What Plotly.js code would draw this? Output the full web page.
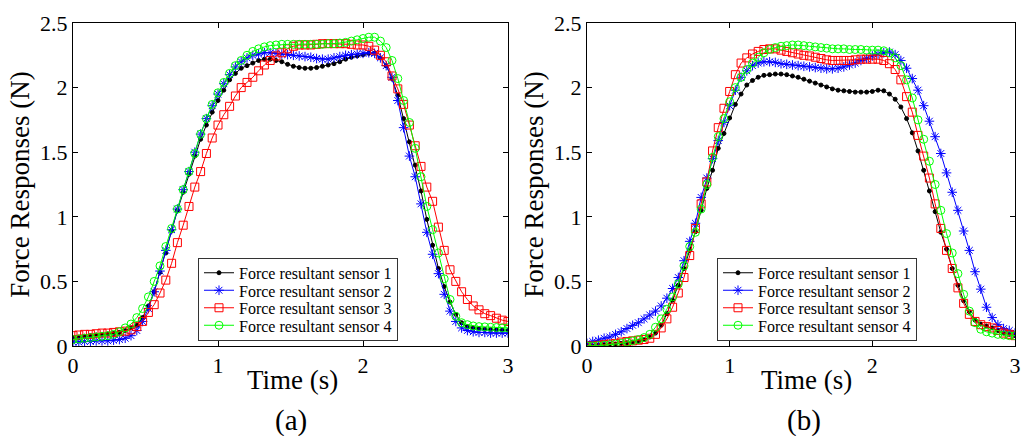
<!DOCTYPE html>
<html>
<head>
<meta charset="utf-8">
<script src="https://cdn.plot.ly/plotly-3.0.1.min.js"></script>
<style>
  html, body { margin: 0; padding: 0; background: #fff; }
  #chart { width: 1022px; height: 436px; }
</style>
</head>
<body>
<div id="chart"></div>
<script>
// Time axis (s)
const time = [0.00,0.04,0.08,0.12,0.16,0.20,0.24,0.28,0.32,0.36,
  0.40,0.44,0.48,0.52,0.56,0.60,0.64,0.68,0.72,0.76,
  0.80,0.84,0.88,0.92,0.96,1.00,1.04,1.08,1.12,1.16,
  1.20,1.24,1.28,1.32,1.36,1.40,1.44,1.48,1.52,1.56,
  1.60,1.64,1.68,1.72,1.76,1.80,1.84,1.88,1.92,1.96,
  2.00,2.04,2.08,2.12,2.16,2.20,2.24,2.28,2.32,2.36,
  2.40,2.44,2.48,2.52,2.56,2.60,2.64,2.68,2.72,2.76,
  2.80,2.84,2.88,2.92,2.96,3.00];

const seriesNames = ["Force resultant sensor 1","Force resultant sensor 2","Force resultant sensor 3","Force resultant sensor 4"];
const xTicks = [0,1,2,3];
const yTicks = [0,0.5,1,1.5,2,2.5];
const yTickText = ["0","0.5","1","1.5","2","2.5"];
const panelLabels = ["(a)","(b)"];
const xTitle = "Time (s)";
const yTitle = "Force Responses (N)";

// Panel (a)
const a_sensor1 = [0.06,0.065,0.075,0.08,0.085,0.09,0.093,0.097,0.105,0.12,
  0.14,0.16,0.22,0.31,0.42,0.57,0.72,0.89,1.05,1.19,
  1.33,1.47,1.60,1.71,1.81,1.90,1.98,2.06,2.11,2.15,
  2.17,2.19,2.21,2.22,2.22,2.21,2.20,2.18,2.165,2.155,
  2.15,2.15,2.155,2.165,2.175,2.185,2.20,2.22,2.235,2.245,
  2.255,2.265,2.265,2.23,2.17,2.07,1.94,1.76,1.58,1.40,
  1.20,0.98,0.78,0.60,0.46,0.34,0.245,0.18,0.15,0.14,
  0.135,0.13,0.128,0.125,0.123,0.12];
const a_sensor2 = [0.03,0.03,0.035,0.035,0.04,0.04,0.04,0.045,0.05,0.06,
  0.08,0.12,0.19,0.29,0.42,0.58,0.74,0.90,1.06,1.21,
  1.35,1.50,1.64,1.76,1.86,1.95,2.03,2.10,2.16,2.20,
  2.23,2.25,2.26,2.27,2.27,2.265,2.26,2.255,2.25,2.245,
  2.24,2.235,2.225,2.22,2.22,2.23,2.24,2.25,2.255,2.26,
  2.265,2.27,2.265,2.23,2.17,2.08,1.90,1.69,1.47,1.31,
  1.10,0.88,0.71,0.56,0.40,0.27,0.19,0.14,0.12,0.11,
  0.105,0.105,0.10,0.10,0.10,0.10];
const a_sensor3 = [0.08,0.085,0.09,0.09,0.095,0.10,0.10,0.105,0.11,0.115,
  0.125,0.15,0.19,0.26,0.32,0.41,0.51,0.64,0.80,0.935,
  1.08,1.23,1.35,1.49,1.61,1.71,1.79,1.855,1.935,2.00,
  2.04,2.08,2.13,2.175,2.21,2.245,2.27,2.30,2.32,2.33,
  2.33,2.33,2.335,2.34,2.34,2.34,2.34,2.34,2.335,2.33,
  2.33,2.32,2.29,2.25,2.20,2.09,1.99,1.87,1.71,1.55,
  1.39,1.23,1.12,0.92,0.74,0.59,0.50,0.42,0.36,0.31,
  0.28,0.25,0.235,0.215,0.20,0.19];
const a_sensor4 = [0.05,0.055,0.06,0.065,0.07,0.075,0.08,0.09,0.11,0.14,
  0.17,0.22,0.29,0.38,0.50,0.62,0.77,0.91,1.06,1.21,
  1.35,1.49,1.64,1.76,1.87,1.96,2.04,2.11,2.17,2.21,
  2.25,2.28,2.30,2.315,2.325,2.33,2.335,2.335,2.335,2.335,
  2.335,2.335,2.335,2.335,2.34,2.34,2.345,2.35,2.36,2.37,
  2.38,2.39,2.39,2.36,2.31,2.21,2.07,1.90,1.73,1.53,
  1.31,1.08,0.90,0.72,0.52,0.36,0.23,0.18,0.165,0.155,
  0.15,0.148,0.145,0.143,0.14,0.14];

// Panel (b)
const b_sensor1 = [0.0,0.0,0.005,0.01,0.012,0.015,0.02,0.025,0.03,0.035,
  0.05,0.07,0.10,0.16,0.25,0.355,0.47,0.60,0.74,0.885,
  1.05,1.22,1.36,1.53,1.645,1.765,1.87,1.95,2.02,2.055,
  2.08,2.095,2.10,2.105,2.105,2.10,2.09,2.08,2.065,2.05,
  2.035,2.02,2.005,1.99,1.98,1.975,1.97,1.965,1.965,1.965,
  1.97,1.98,1.975,1.95,1.91,1.85,1.76,1.65,1.51,1.36,
  1.20,1.04,0.88,0.75,0.60,0.47,0.35,0.265,0.20,0.17,
  0.155,0.14,0.12,0.10,0.09,0.08];
const b_sensor2 = [0.02,0.035,0.045,0.06,0.07,0.09,0.11,0.135,0.16,0.18,
  0.21,0.24,0.27,0.31,0.37,0.445,0.53,0.66,0.81,0.95,
  1.15,1.30,1.45,1.59,1.73,1.86,1.98,2.08,2.13,2.17,
  2.19,2.20,2.20,2.195,2.185,2.18,2.175,2.17,2.165,2.16,
  2.155,2.15,2.145,2.145,2.15,2.16,2.175,2.19,2.21,2.225,
  2.245,2.26,2.27,2.275,2.255,2.21,2.15,2.07,1.98,1.86,
  1.74,1.62,1.49,1.34,1.19,1.05,0.89,0.74,0.575,0.44,
  0.30,0.22,0.165,0.135,0.12,0.10];
const b_sensor3 = [0.0,0.0,0.005,0.01,0.015,0.02,0.03,0.035,0.04,0.045,
  0.05,0.06,0.09,0.14,0.21,0.30,0.41,0.53,0.70,0.91,
  1.10,1.27,1.51,1.69,1.84,1.97,2.10,2.19,2.23,2.26,
  2.28,2.295,2.30,2.30,2.29,2.28,2.27,2.26,2.25,2.245,
  2.235,2.225,2.215,2.21,2.21,2.21,2.21,2.215,2.22,2.22,
  2.22,2.22,2.21,2.185,2.14,2.06,1.93,1.81,1.63,1.47,
  1.30,1.10,0.91,0.74,0.60,0.45,0.33,0.245,0.19,0.165,
  0.15,0.14,0.12,0.10,0.09,0.08];
const b_sensor4 = [0.0,0.0,0.003,0.006,0.01,0.015,0.02,0.03,0.04,0.05,
  0.065,0.09,0.145,0.21,0.285,0.38,0.48,0.62,0.77,0.88,
  1.06,1.25,1.46,1.62,1.76,1.89,2.00,2.08,2.14,2.19,
  2.235,2.27,2.295,2.31,2.32,2.325,2.33,2.33,2.325,2.32,
  2.315,2.31,2.305,2.30,2.30,2.30,2.295,2.295,2.295,2.29,
  2.29,2.29,2.285,2.27,2.23,2.17,2.06,1.92,1.75,1.60,
  1.43,1.25,1.05,0.87,0.72,0.56,0.40,0.27,0.18,0.13,
  0.11,0.10,0.09,0.085,0.08,0.08];

const styles = [
  {color: "#000000", symbol: "circle", size: 4},
  {color: "#0000ff", symbol: "asterisk-open", size: 8},
  {color: "#ff0000", symbol: "square-open", size: 8},
  {color: "#00ff00", symbol: "circle-open", size: 8}
];

function mkTrace(y, k, xa, ya, lg) {
  const s = styles[k];
  return {
    type: "scatter", mode: "lines+markers",
    x: time, y: y, name: seriesNames[k],
    xaxis: xa, yaxis: ya, legend: lg,
    line: {color: s.color, width: 1},
    marker: {symbol: s.symbol, size: s.size, color: s.color,
             line: {color: s.color, width: 1}},
    hoverinfo: "skip"
  };
}

const data = [
  mkTrace(a_sensor1, 0, "x", "y", "legend"),
  mkTrace(a_sensor2, 1, "x", "y", "legend"),
  mkTrace(a_sensor3, 2, "x", "y", "legend"),
  mkTrace(a_sensor4, 3, "x", "y", "legend"),
  mkTrace(b_sensor1, 0, "x2", "y2", "legend2"),
  mkTrace(b_sensor2, 1, "x2", "y2", "legend2"),
  mkTrace(b_sensor3, 2, "x2", "y2", "legend2"),
  mkTrace(b_sensor4, 3, "x2", "y2", "legend2")
];

const W = 1022, H = 436;
const FONT = "Liberation Serif";

function xAxis(domain, anchor) {
  return {
    domain: domain, anchor: anchor, range: [0, 3],
    tickvals: xTicks, ticks: "inside", ticklen: 5, tickcolor: "#000",
    mirror: "ticks", showline: true, linecolor: "#000", linewidth: 1,
    showgrid: false, zeroline: false, ticklabeloverflow: "allow",
    tickfont: {family: FONT, size: 22, color: "#000"},
    title: {text: ""}
  };
}
function yAxis(anchor) {
  return {
    domain: [90 / H, (H - 23) / H], anchor: anchor, range: [0, 2.5],
    tickvals: yTicks, ticktext: yTickText, ticks: "inside", ticklen: 5, tickcolor: "#000",
    mirror: "ticks", showline: true, linecolor: "#000", linewidth: 1,
    showgrid: false, zeroline: false,
    tickfont: {family: FONT, size: 22, color: "#000"},
    title: {text: yTitle, font: {family: FONT, size: 27, color: "#000"}, standoff: 2}
  };
}

function legendCfg(xpx) {
  return {
    x: xpx / W, y: (H - 258) / H, xanchor: "left", yanchor: "top",
    bgcolor: "#ffffff", bordercolor: "#333333", borderwidth: 1,
    font: {family: FONT, size: 16, color: "#000"},
    tracegroupgap: 0
  };
}

function ann(text, xpx, ypx, size) {
  return {text: text, xref: "paper", yref: "paper", x: xpx / W, y: (H - ypx) / H,
    xanchor: "center", yanchor: "middle", showarrow: false,
    font: {family: FONT, size: size, color: "#000"}};
}

const layout = {
  width: W, height: H,
  margin: {l: 0, r: 0, t: 0, b: 0},
  paper_bgcolor: "#ffffff", plot_bgcolor: "#ffffff",
  font: {family: FONT, color: "#000"},
  showlegend: true,
  xaxis: xAxis([73 / W, 508 / W], "y"),
  yaxis: yAxis("x"),
  xaxis2: xAxis([587 / W, 1015 / W], "y2"),
  yaxis2: yAxis("x2"),
  legend: legendCfg(198),
  legend2: legendCfg(717),
  annotations: [
    ann(xTitle, 292, 380, 27),
    ann(xTitle, 806, 380, 27),
    ann(panelLabels[0], 290.5, 420, 29),
    ann(panelLabels[1], 804, 420, 29)
  ]
};

Plotly.newPlot("chart", data, layout, {staticPlot: true, displayModeBar: false}).then(function (gd) {
  // tighten legend rows to match the compact MATLAB-style legend
  const rowH = 17.5;
  ["legend", "legend2"].forEach(function (cls) {
    const lg = gd.querySelector(".infolayer ." + cls);
    if (!lg) return;
    const tr = lg.querySelectorAll("g.traces");
    if (tr.length < 2) return;
    const getT = function (el) {
      const m = /translate\(\s*([-\d.e]+)[ ,]+([-\d.e]+)/.exec(el.getAttribute("transform") || "");
      return m ? [parseFloat(m[1]), parseFloat(m[2])] : [0, 0];
    };
    const p0 = getT(tr[0]), p1 = getT(tr[1]);
    const old = p1[1] - p0[1];
    if (!(old > rowH)) return;
    const shift = (old - rowH) / 2;
    for (let i = 0; i < tr.length; i++) {
      const p = getT(tr[i]);
      tr[i].setAttribute("transform", "translate(" + p[0] + "," + (p0[1] - shift + i * rowH) + ")");
    }
    const bg = lg.querySelector("rect.bg");
    if (bg) {
      const h = parseFloat(bg.getAttribute("height"));
      bg.setAttribute("height", h - tr.length * (old - rowH));
    }
  });
});
</script>
</body>
</html>
